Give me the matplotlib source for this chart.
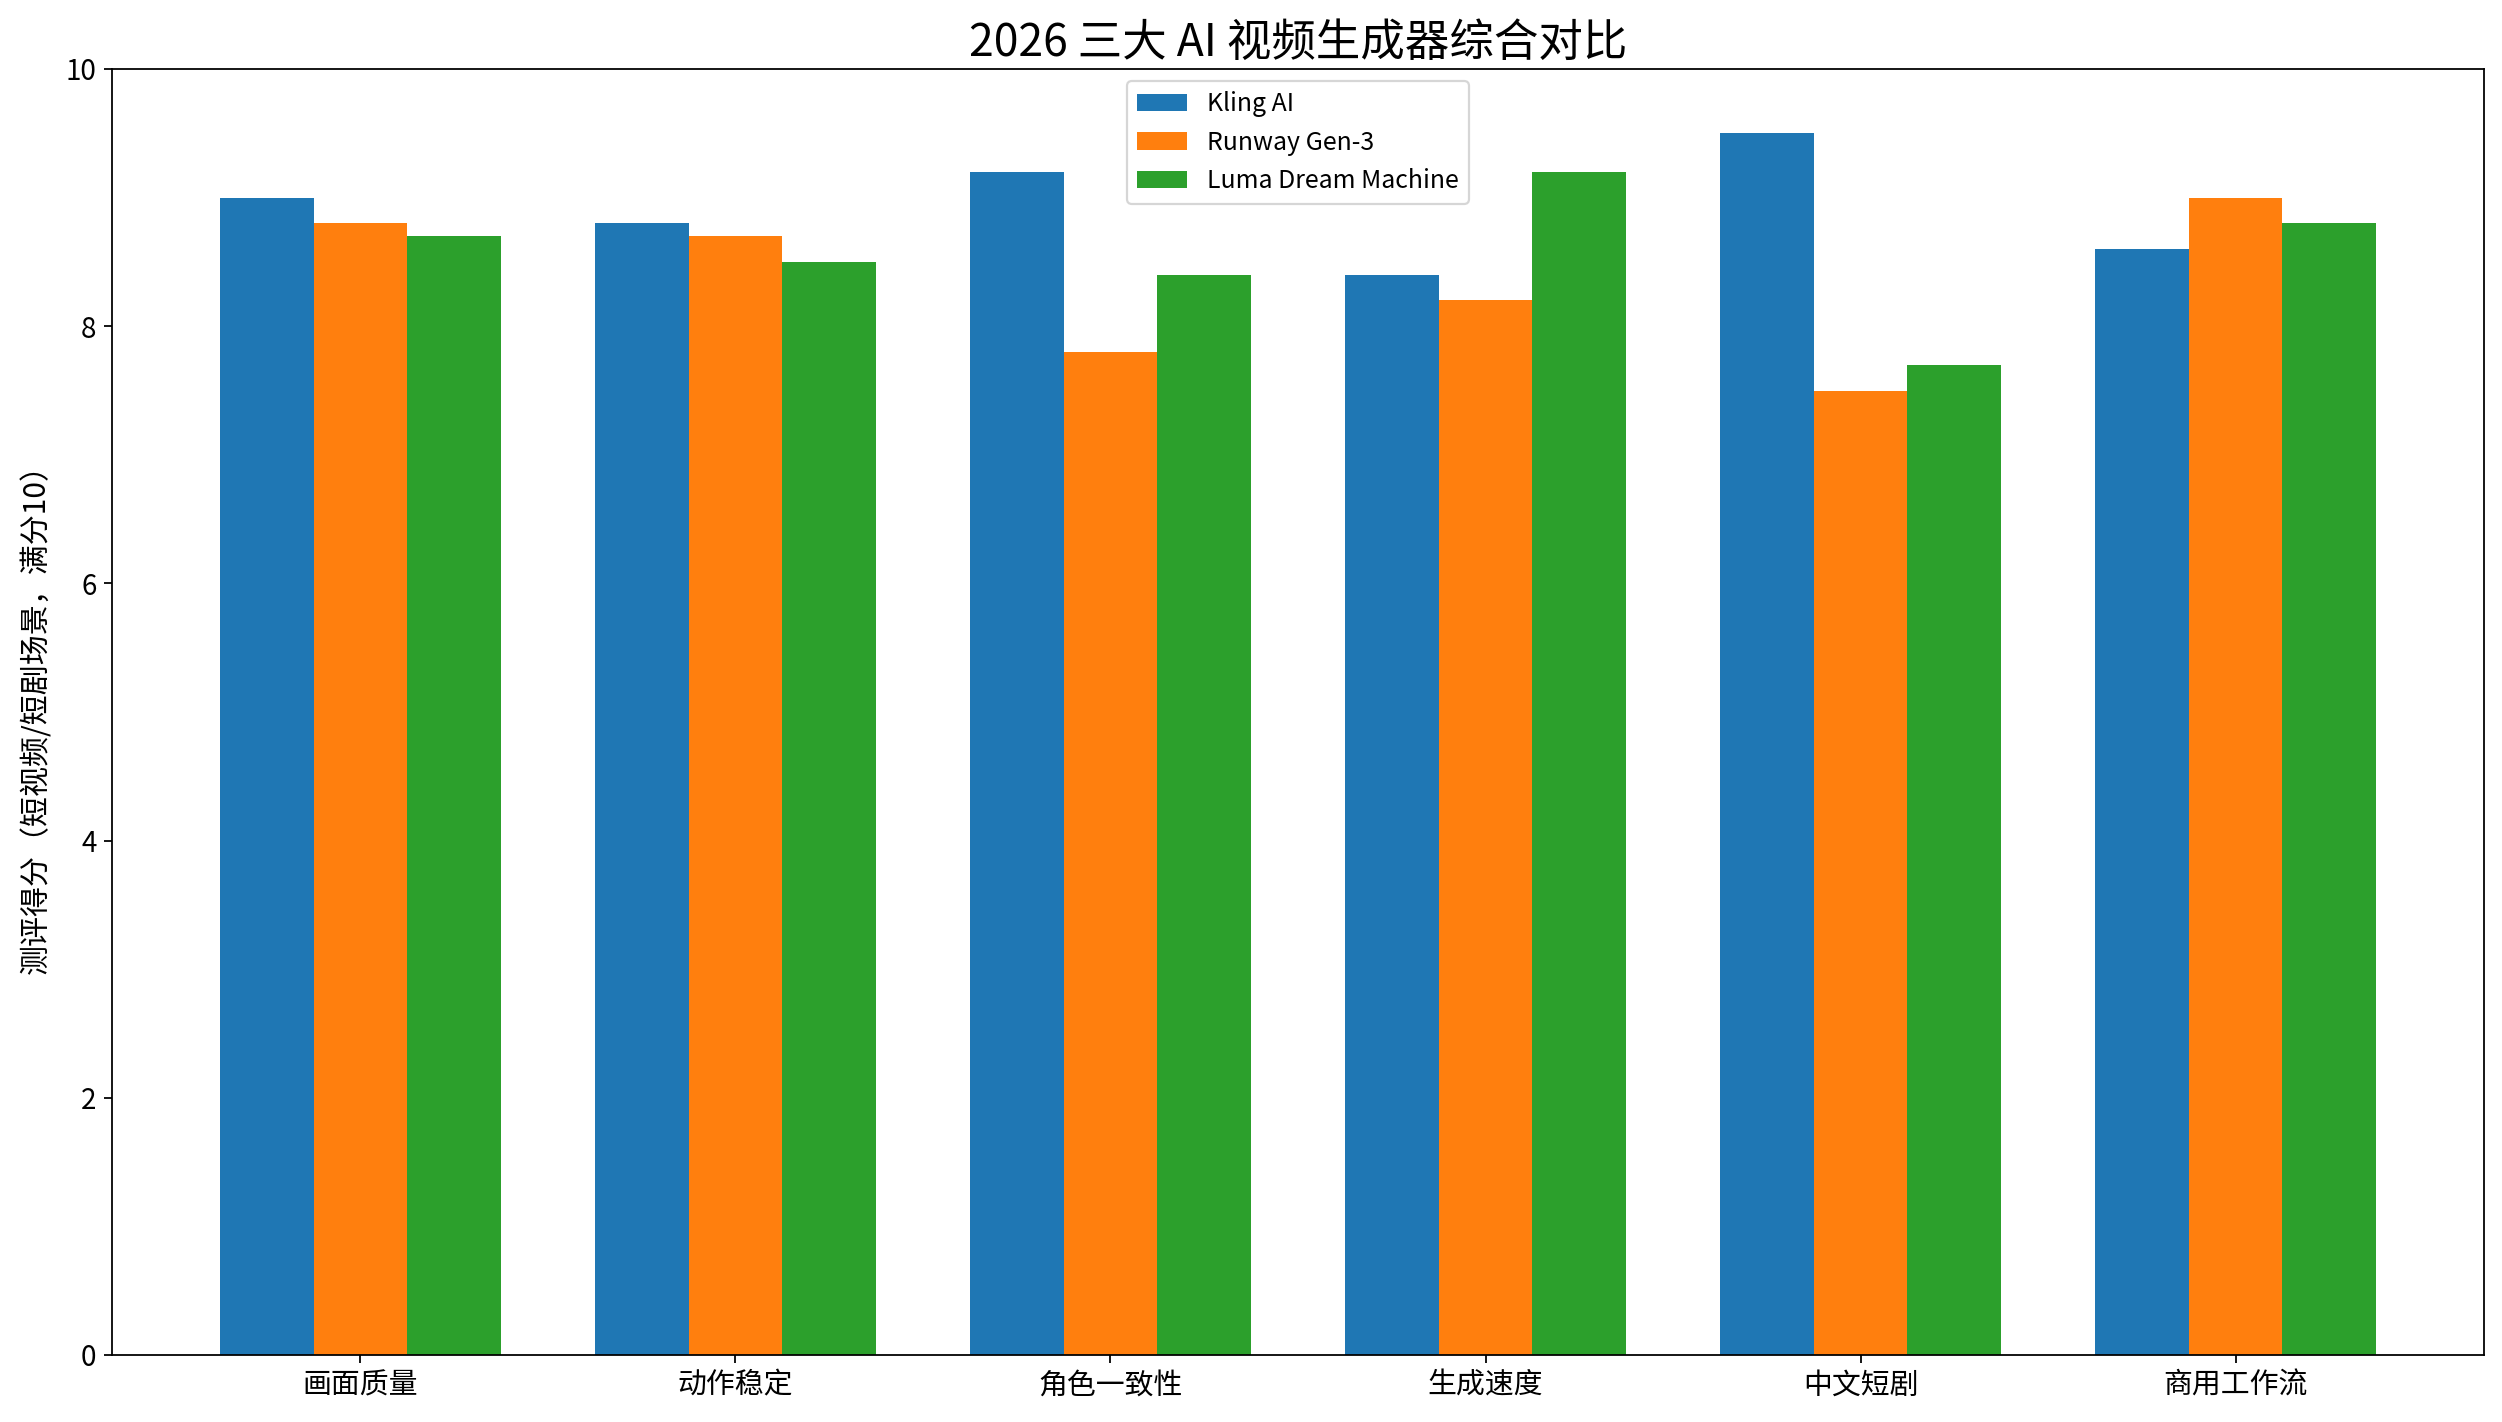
import matplotlib
matplotlib.use("Agg")
import matplotlib.pyplot as plt
import numpy as np

plt.rcParams['font.family'] = ['Noto Sans CJK SC', 'DejaVu Sans']
plt.rcParams['axes.unicode_minus'] = False

categories = ["画面质量", "动作稳定", "角色一致性", "生成速度", "中文短剧", "商用工作流"]
kling = [9.0, 8.8, 9.2, 8.4, 9.5, 8.6]
runway = [8.8, 8.7, 7.8, 8.2, 7.5, 9.0]
luma = [8.7, 8.5, 8.4, 9.2, 7.7, 8.8]
series_names = ["Kling AI", "Runway Gen-3", "Luma Dream Machine"]
yticks = [0, 2, 4, 6, 8, 10]

DPI = 160
fig = plt.figure(figsize=(2502 / DPI, 1422 / DPI), dpi=DPI)
ax = fig.add_axes([112 / 2502, 1 - 1355 / 1422, (2484 - 112) / 2502, (1355 - 69) / 1422])

x = np.arange(len(categories))
w = 0.25
ax.bar(x - w, kling, w, label=series_names[0], color="#1f77b4")
ax.bar(x, runway, w, label=series_names[1], color="#ff7f0e")
ax.bar(x + w, luma, w, label=series_names[2], color="#2ca02c")

ax.set_xticks(x)
ax.set_xticklabels(categories, fontsize=13)
ax.set_yticks(yticks)
ax.set_yticklabels([str(v) for v in yticks], fontsize=12.5)
ax.set_ylim(0, 10)
ax.set_ylabel("测评得分（短视频/短剧场景，满分10）", fontsize=13.5, labelpad=6)
ax.set_title("2026 三大 AI 视频生成器综合对比", fontsize=20)
ax.legend(loc="upper center", fontsize=11.2)

fig.savefig("out.png", dpi=DPI)
